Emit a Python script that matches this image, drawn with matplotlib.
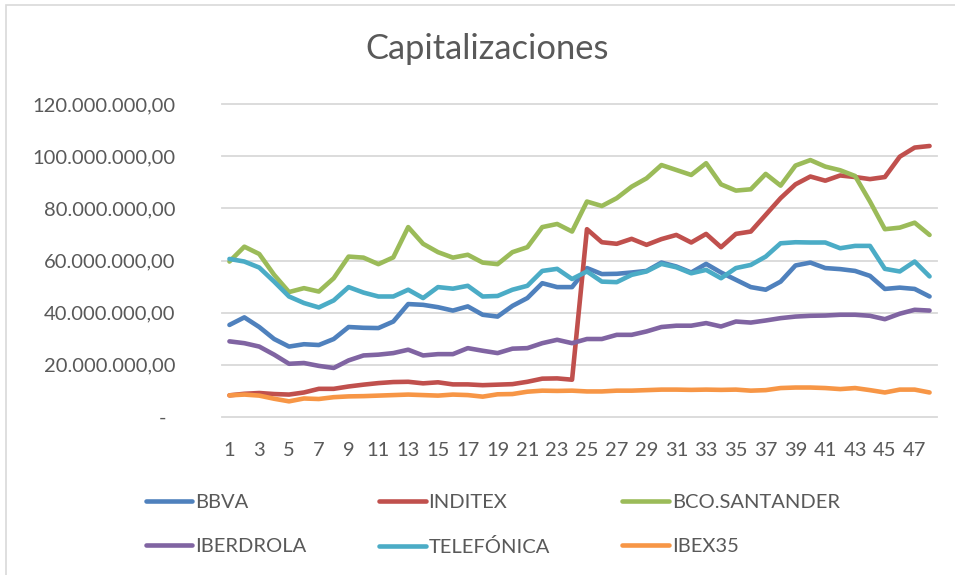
import matplotlib
matplotlib.use("Agg")
import matplotlib.pyplot as plt
from matplotlib.patches import Rectangle
from matplotlib.transforms import ScaledTranslation

periods = list(range(1, 49))

bbva = [35.3, 38.2, 34.5, 29.9, 27.0, 27.9, 27.6, 29.9, 34.5, 34.2, 34.1, 36.6,
        43.3, 43.0, 42.1, 40.8, 42.4, 39.2, 38.5, 42.6, 45.6, 51.3, 49.8, 49.8,
        57.1, 54.8, 54.9, 55.4, 56.0, 59.2, 57.7, 55.4, 58.7, 55.4, 52.6, 49.8,
        48.8, 51.9, 58.1, 59.2, 57.1, 56.7, 56.0, 54.1, 49.1, 49.6, 49.1, 46.2]
inditex = [8.3, 8.9, 9.2, 8.8, 8.6, 9.4, 10.8, 10.8, 11.7, 12.4, 13.0, 13.4,
           13.5, 12.9, 13.3, 12.5, 12.5, 12.2, 12.4, 12.6, 13.5, 14.7, 14.8, 14.3,
           72.0, 67.0, 66.4, 68.3, 66.0, 68.2, 69.8, 66.9, 70.2, 65.1, 70.2, 71.1,
           77.5, 83.9, 89.2, 92.2, 90.6, 92.6, 92.0, 91.2, 92.0, 99.8, 103.3, 103.9]
santander = [59.6, 65.3, 62.5, 54.5, 47.9, 49.4, 48.1, 53.2, 61.5, 61.1, 58.6, 61.2,
             72.8, 66.4, 63.2, 61.1, 62.2, 59.2, 58.6, 63.2, 65.1, 72.8, 74.0, 71.1,
             82.6, 80.9, 83.9, 88.3, 91.5, 96.6, 94.7, 92.8, 97.3, 89.2, 86.8, 87.3,
             93.2, 88.7, 96.4, 98.5, 96.0, 94.6, 92.4, 82.6, 72.0, 72.6, 74.5, 69.8]
iberdrola = [29.0, 28.3, 27.0, 23.9, 20.4, 20.7, 19.6, 18.8, 21.7, 23.6, 23.9, 24.5,
             25.8, 23.6, 24.1, 24.1, 26.4, 25.4, 24.5, 26.2, 26.4, 28.3, 29.6, 28.3,
             29.9, 29.9, 31.5, 31.5, 32.8, 34.5, 35.0, 35.0, 36.0, 34.7, 36.6, 36.2,
             37.0, 37.9, 38.5, 38.8, 38.9, 39.2, 39.2, 38.8, 37.5, 39.6, 41.1, 40.8]
telefonica = [60.6, 59.6, 57.3, 51.9, 46.2, 43.7, 42.0, 44.7, 49.8, 47.7, 46.2, 46.2,
              48.8, 45.6, 49.8, 49.2, 50.3, 46.2, 46.4, 48.8, 50.3, 56.0, 56.8, 52.9,
              55.8, 51.9, 51.7, 54.5, 55.8, 58.7, 57.4, 55.1, 56.4, 53.2, 57.1, 58.3,
              61.5, 66.6, 67.0, 66.9, 66.9, 64.7, 65.6, 65.6, 56.8, 55.8, 59.6, 53.9]
ibex35 = [8.3, 8.6, 8.2, 7.0, 6.0, 7.1, 6.9, 7.6, 7.9, 8.0, 8.2, 8.4,
          8.6, 8.4, 8.2, 8.6, 8.4, 7.8, 8.7, 8.8, 9.7, 10.1, 10.0, 10.1,
          9.8, 9.8, 10.1, 10.1, 10.3, 10.5, 10.5, 10.4, 10.5, 10.4, 10.5, 10.1,
          10.3, 11.1, 11.3, 11.3, 11.1, 10.7, 11.1, 10.3, 9.4, 10.5, 10.5, 9.4]

series_names = ["BBVA", "INDITEX", "BCO.SANTANDER", "IBERDROLA", "TELEFÓNICA", "IBEX35"]
series_values = [bbva, inditex, santander, iberdrola, telefonica, ibex35]
series_colors = ["#4F81BD", "#C0504D", "#9BBB59", "#8064A2", "#4BACC6", "#F79646"]

y_ticks = [0, 20e6, 40e6, 60e6, 80e6, 100e6, 120e6]
y_tick_labels = ["-", "20.000.000,00", "40.000.000,00", "60.000.000,00",
                 "80.000.000,00", "100.000.000,00", "120.000.000,00"]
x_ticks = list(range(1, 49, 2))

TXT = "#595959"
plt.rcParams['font.family'] = ['Lato', 'DejaVu Sans']

W, H = 955, 575
fig = plt.figure(figsize=(W / 100, H / 100), dpi=100)
fig.patch.set_facecolor("white")

# chart border (cropped on right/bottom)
fig.patches.append(Rectangle((6 / W, -0.05), 1.2, 1 - 5 / H + 0.05,
                             transform=fig.transFigure, fill=False,
                             edgecolor="#d9d9d9", linewidth=1.2))

L, R, T, B = 222, 937, 104, 417
ax = fig.add_axes([L / W, 1 - B / H, (R - L) / W, (B - T) / H])
ax.set_facecolor("none")

for name, vals, col in zip(series_names, series_values, series_colors):
    ax.plot(periods, [v * 1e6 for v in vals], color=col, linewidth=3.3,
            solid_capstyle="round", solid_joinstyle="round", label=name)

ax.set_xlim(0.5, 48.5)
ax.set_ylim(0, 120e6)
ax.set_yticks(y_ticks)
ax.set_yticklabels(y_tick_labels)
ax.set_xticks(x_ticks)
ax.set_xticklabels([str(x) for x in x_ticks])
for s in ax.spines.values():
    s.set_visible(False)
ax.tick_params(axis="both", length=0, labelsize=14.5, labelcolor=TXT)
ax.tick_params(axis="y", pad=33.5)
ax.tick_params(axis="x", pad=18.3)
ax.yaxis.grid(True, color="#d9d9d9", linewidth=1.3)
ax.set_axisbelow(True)
for g in ax.get_ygridlines():
    g.set_clip_on(False)

fig.text(487 / W, 1 - 49 / H, "Capitalizaciones", ha="center", va="center",
         fontsize=24.8, color=TXT)

handles, labels = ax.get_legend_handles_labels()
order = [0, 3, 1, 4, 2, 5]
leg = fig.legend([handles[i] for i in order], [labels[i] for i in order],
                 ncol=3, loc="upper left",
                 bbox_to_anchor=(128 / W, 1 - 476 / H), frameon=False,
                 fontsize=14.5, labelcolor=TXT, handlelength=2.3,
                 handletextpad=0.15, columnspacing=3.6, labelspacing=1.33)

# offset the "-" zero label like the accounting format
lbl0 = ax.get_yticklabels()[0]
lbl0.set_transform(lbl0.get_transform() + ScaledTranslation(-0.09, 0, fig.dpi_scale_trans))

fig.savefig("out.png", dpi=100)
